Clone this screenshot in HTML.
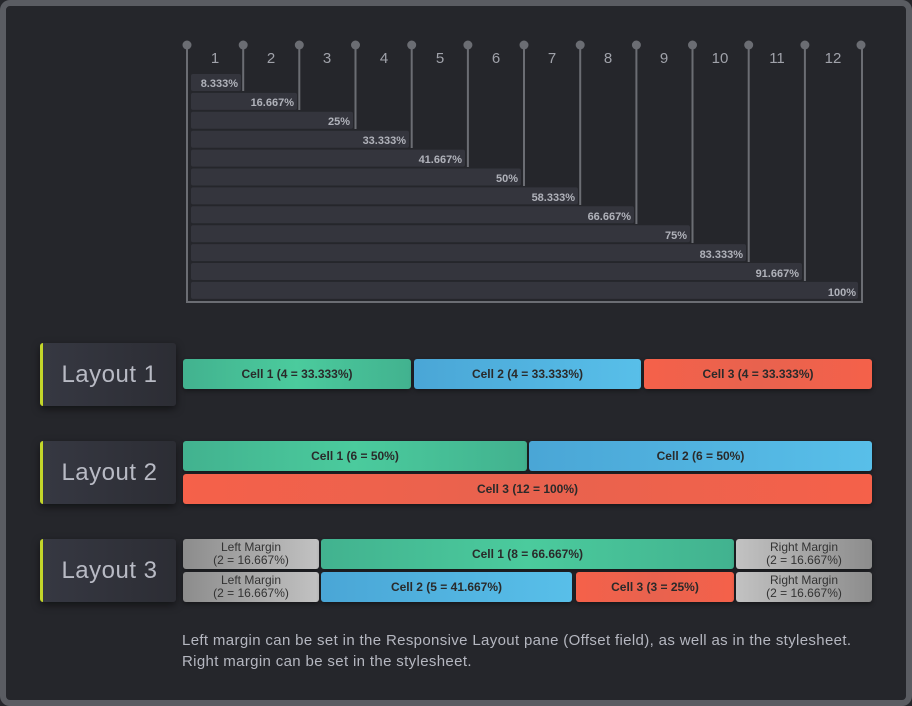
<!DOCTYPE html>
<html><head><meta charset="utf-8"><style>
body{margin:0;width:912px;height:706px;background:#25262b;font-family:"Liberation Sans",sans-serif;overflow:hidden}
.frame{position:absolute;left:0;top:0;width:900px;height:694px;border:6px solid #5a5c62;border-radius:10px;background:#25262b}
.lab{position:absolute;left:40px;width:133px;height:63px;border-left:3px solid #c3d62a;border-radius:3px;background:linear-gradient(90deg,#363842,#2c2d34);box-shadow:0 3px 8px rgba(0,0,0,.5);color:#b8bac4;font-size:24px;line-height:63px;text-align:center;letter-spacing:0.5px}
.c{position:absolute;height:30px;border-radius:3px;color:#2a2a2a;font-size:12px;font-weight:bold;text-align:center;line-height:30px;box-shadow:0 2px 5px rgba(0,0,0,.4)}
.g{background:linear-gradient(90deg,#42b28f,#4bcb9d 50%,#42b28f)}
.b{background:linear-gradient(90deg,#4aa6d6,#58bfe9)}
.r{background:linear-gradient(90deg,#f5614a,#e8624e 50%,#f5614a)}
.m{background:linear-gradient(90deg,#8c8c8c,#c2c2c2);font-weight:normal;line-height:13px;padding-top:2px;height:28px;color:#333}
.mr{background:linear-gradient(90deg,#c2c2c2,#8c8c8c)}
.note{position:absolute;left:182px;top:630px;color:#b5b7c0;font-size:15px;line-height:21px;letter-spacing:0.35px}
</style></head><body>
<div class="frame"></div>
<svg style="position:absolute;left:0;top:0" width="912" height="706" font-family="Liberation Sans, sans-serif">
<g fill="#34353d">
<rect x="191" y="74" width="50" height="17" rx="2"/>
<rect x="191" y="92.9" width="106" height="17" rx="2"/>
<rect x="191" y="111.8" width="162" height="17" rx="2"/>
<rect x="191" y="130.7" width="218" height="17" rx="2"/>
<rect x="191" y="149.6" width="274" height="17" rx="2"/>
<rect x="191" y="168.5" width="330" height="17" rx="2"/>
<rect x="191" y="187.4" width="387" height="17" rx="2"/>
<rect x="191" y="206.3" width="443" height="17" rx="2"/>
<rect x="191" y="225.2" width="499" height="17" rx="2"/>
<rect x="191" y="244.1" width="555" height="17" rx="2"/>
<rect x="191" y="263" width="611" height="17" rx="2"/>
<rect x="191" y="281.9" width="667" height="17" rx="2"/>
</g>
<g fill="#b0b2ba" font-size="11" font-weight="bold" text-anchor="end">
<text x="238" y="87">8.333%</text>
<text x="294" y="106">16.667%</text>
<text x="350" y="125">25%</text>
<text x="406" y="144">33.333%</text>
<text x="462" y="163">41.667%</text>
<text x="518" y="182">50%</text>
<text x="575" y="201">58.333%</text>
<text x="631" y="220">66.667%</text>
<text x="687" y="239">75%</text>
<text x="743" y="258">83.333%</text>
<text x="799" y="277">91.667%</text>
<text x="856" y="296">100%</text>
</g>
<g stroke="#6b6d73" stroke-width="2" fill="none">
<path d="M187 45V302H862V45"/>
<path d="M243.2 45V91M299.3 45V110M355.5 45V129M411.7 45V148M467.9 45V167M524 45V186M580.2 45V205M636.4 45V224M692.5 45V243M748.7 45V262M804.9 45V281"/>
</g>
<g fill="#6b6d73">
<circle cx="187" cy="45" r="4.5"/><circle cx="243.2" cy="45" r="4.5"/><circle cx="299.3" cy="45" r="4.5"/><circle cx="355.5" cy="45" r="4.5"/><circle cx="411.7" cy="45" r="4.5"/><circle cx="467.9" cy="45" r="4.5"/><circle cx="524" cy="45" r="4.5"/><circle cx="580.2" cy="45" r="4.5"/><circle cx="636.4" cy="45" r="4.5"/><circle cx="692.5" cy="45" r="4.5"/><circle cx="748.7" cy="45" r="4.5"/><circle cx="804.9" cy="45" r="4.5"/><circle cx="861" cy="45" r="4.5"/>
</g>
<g fill="#a0a2aa" font-size="15" text-anchor="middle">
<text x="215" y="63">1</text><text x="271" y="63">2</text><text x="327" y="63">3</text><text x="384" y="63">4</text><text x="440" y="63">5</text><text x="496" y="63">6</text><text x="552" y="63">7</text><text x="608" y="63">8</text><text x="664" y="63">9</text><text x="720" y="63">10</text><text x="777" y="63">11</text><text x="833" y="63">12</text>
</g>
</svg>
<div class="lab" style="top:343px">Layout 1</div>
<div class="lab" style="top:441px">Layout 2</div>
<div class="lab" style="top:539px">Layout 3</div>
<div class="c g" style="left:183px;top:359px;width:228px">Cell 1 (4 = 33.333%)</div>
<div class="c b" style="left:414px;top:359px;width:227px">Cell 2 (4 = 33.333%)</div>
<div class="c r" style="left:644px;top:359px;width:228px">Cell 3 (4 = 33.333%)</div>
<div class="c g" style="left:183px;top:441px;width:344px">Cell 1 (6 = 50%)</div>
<div class="c b" style="left:529px;top:441px;width:343px">Cell 2 (6 = 50%)</div>
<div class="c r" style="left:183px;top:474px;width:689px">Cell 3 (12 = 100%)</div>
<div class="c m" style="left:183px;top:539px;width:136px">Left Margin<br>(2 = 16.667%)</div>
<div class="c g" style="left:321px;top:539px;width:413px">Cell 1 (8 = 66.667%)</div>
<div class="c m mr" style="left:736px;top:539px;width:136px">Right Margin<br>(2 = 16.667%)</div>
<div class="c m" style="left:183px;top:572px;width:136px">Left Margin<br>(2 = 16.667%)</div>
<div class="c b" style="left:321px;top:572px;width:251px">Cell 2 (5 = 41.667%)</div>
<div class="c r" style="left:576px;top:572px;width:158px">Cell 3 (3 = 25%)</div>
<div class="c m mr" style="left:736px;top:572px;width:136px">Right Margin<br>(2 = 16.667%)</div>
<div class="note">Left margin can be set in the Responsive Layout pane (Offset field), as well as in the stylesheet.<br>Right margin can be set in the stylesheet.</div>
</body></html>
